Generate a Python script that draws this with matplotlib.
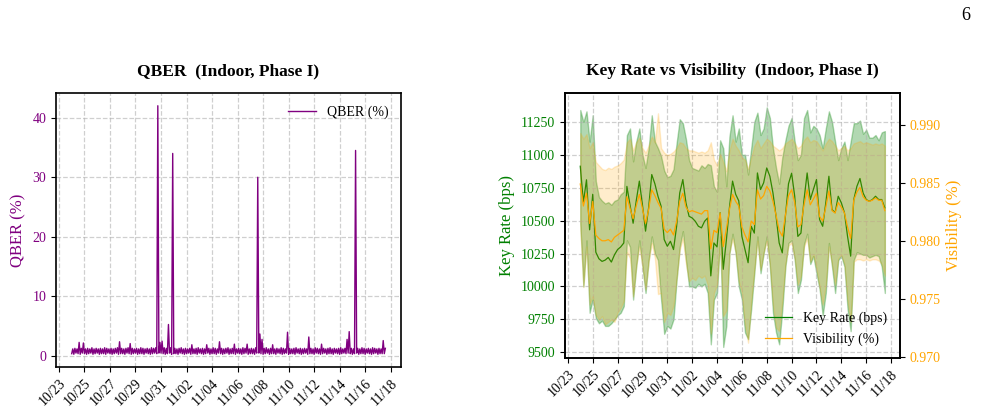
import matplotlib
matplotlib.use('Agg')
import matplotlib.pyplot as plt
import matplotlib.dates as mdates
import pandas as pd

plt.rcParams['font.family'] = ['Liberation Serif', 'DejaVu Serif']

# ---------------- data ----------------
# QBER: per 4-hour window, the low and the high reading (spikes sit in the highs)
qber_start = '2023-10-24 00:00'
qber_step = '4h'
qber_hi = [1.2, 1.3, 1.2, 2.3, 1.3, 2.2, 1.2, 1.3, 1.2, 1.4,
           1.2, 1.3, 1.2, 1.3, 1.2, 1.4, 1.3, 1.2, 1.3, 1.2,
           1.3, 1.4, 2.4, 1.3, 1.2, 1.3, 1.4, 2.1, 1.3, 1.2,
           1.3, 1.2, 1.4, 1.3, 1.2, 1.3, 1.2, 1.4, 1.3, 1.4,
           42.0, 2.3, 2.5, 1.4, 1.3, 5.3, 1.4, 34.0, 1.3, 1.2,
           1.3, 1.4, 1.2, 1.3, 1.2, 1.3, 1.9, 1.2, 1.3, 1.4,
           1.2, 1.3, 1.2, 1.9, 1.3, 1.2, 1.4, 1.3, 1.2, 2.4,
           1.3, 1.2, 1.3, 1.4, 1.2, 1.3, 2.0, 1.2, 1.3, 1.2,
           1.4, 1.3, 2.0, 1.2, 1.3, 1.2, 1.4, 30.0, 3.7, 2.8,
           1.3, 1.4, 1.2, 1.3, 1.9, 1.2, 1.3, 1.2, 1.4, 1.3,
           1.2, 4.0, 1.3, 1.2, 1.3, 1.4, 1.2, 1.3, 1.2, 1.3,
           1.2, 3.2, 1.3, 1.2, 1.4, 1.3, 1.2, 2.0, 1.3, 1.2,
           1.3, 1.4, 1.2, 1.3, 1.2, 1.3, 1.4, 1.2, 1.3, 2.8,
           4.1, 1.3, 1.2, 34.5, 1.3, 1.2, 1.4, 1.3, 1.2, 1.3,
           1.2, 1.4, 1.3, 1.2, 1.3, 1.2, 2.6, 1.3]
qber_lo = [0.4, 0.3, 0.5, 0.4, 0.3, 0.5, 0.4, 0.3, 0.4, 0.5,
           0.3, 0.4, 0.5, 0.3, 0.4, 0.4, 0.3, 0.5, 0.4, 0.3,
           0.4, 0.5, 0.3, 0.4, 0.4, 0.3, 0.5, 0.4, 0.3, 0.4,
           0.5, 0.3, 0.4, 0.4, 0.3, 0.5, 0.4, 0.3, 0.4, 0.5,
           0.4, 0.5, 0.5, 0.4, 0.3, 0.4, 0.5, 0.3, 0.4, 0.4,
           0.3, 0.5, 0.4, 0.3, 0.4, 0.5, 0.3, 0.4, 0.4, 0.3,
           0.5, 0.4, 0.3, 0.4, 0.5, 0.3, 0.4, 0.4, 0.3, 0.5,
           0.4, 0.3, 0.4, 0.5, 0.3, 0.4, 0.4, 0.3, 0.5, 0.4,
           0.3, 0.4, 0.5, 0.3, 0.4, 0.4, 0.3, 0.5, 0.5, 0.4,
           0.3, 0.4, 0.5, 0.3, 0.4, 0.4, 0.3, 0.5, 0.4, 0.3,
           0.4, 0.5, 0.3, 0.4, 0.4, 0.3, 0.5, 0.4, 0.3, 0.4,
           0.5, 0.3, 0.4, 0.4, 0.3, 0.5, 0.4, 0.3, 0.4, 0.5,
           0.3, 0.4, 0.4, 0.3, 0.5, 0.4, 0.3, 0.4, 0.5, 0.4,
           0.5, 0.4, 0.3, 0.4, 0.5, 0.3, 0.4, 0.4, 0.3, 0.5,
           0.4, 0.3, 0.4, 0.5, 0.3, 0.4, 0.4, 0.4]

kr_start = '2023-10-24 00:00'
kr_step = '6h'
key_rate = [10913, 10640, 10810, 10430, 10700, 10260, 10210, 10190, 10200, 10220,
            10185, 10240, 10280, 10300, 10330, 10760, 10620, 10480, 10650, 10800,
            10620, 10420, 10600, 10850, 10780, 10685, 10610, 10356, 10305, 10343,
            10280, 10457, 10710, 10812, 10635, 10533, 10520, 10495, 10457, 10445,
            10495, 10520, 10080, 10330, 10300, 10560, 10130, 10350, 10600, 10800,
            10700, 10650, 10380, 10280, 10180, 10457, 10405, 10862, 10736, 10787,
            10900, 10837, 10710, 10533, 10330, 10255, 10533, 10780, 10860, 10685,
            10380, 10405, 10660, 10862, 10660, 10736, 10812, 10508, 10457, 10635,
            10837, 10584, 10560, 10685, 10635, 10560, 10380, 10230, 10660, 10760,
            10820, 10710, 10660, 10647, 10660, 10685, 10660, 10660, 10597]
key_rate_hi = [11340, 11250, 11330, 11100, 11300, 10800, 10680, 10650, 10630, 10640,
               10620, 10650, 10660, 10700, 10720, 11150, 11200, 10950, 11100, 11200,
               11000, 10900, 11050, 11300, 11100, 11050, 10990, 10880, 10830, 10840,
               10890, 11090, 11270, 11240, 11120, 10960, 10900, 10890, 10880, 10920,
               10900, 10930, 10920, 10760, 10720, 11110, 11050, 10760, 11140, 11300,
               11100, 11200, 11000, 11000, 10850, 11050, 11250, 11320, 11150, 11200,
               11360, 11280, 11050, 10900, 10780, 10980, 11110, 11220, 11280, 11100,
               10960, 11000, 11280, 11340, 11170, 11220, 11200, 11150, 11050, 11200,
               11330, 11250, 11100, 10960, 11050, 11100, 10960, 11100, 11240, 11240,
               11260, 11160, 11190, 11130, 11130, 11150, 11110, 11170, 11180]
key_rate_lo = [10480, 10000, 10350, 9800, 9900, 9760, 9720, 9740, 9700, 9700,
               9720, 9750, 9780, 9800, 9850, 10350, 10300, 9900, 10150, 10350,
               10150, 9950, 10200, 10380, 10250, 10200, 9900, 9640, 9700, 9680,
               9750, 10050, 10300, 10420, 10200, 10000, 10000, 9990, 10020, 10000,
               10020, 9950, 9560, 9900, 9950, 10380, 9540, 9700, 10250, 10400,
               10250, 10000, 9900, 9650, 9600, 9830, 10100, 10380, 10100, 10250,
               10380, 10150, 9800, 9650, 9560, 9820, 10150, 10330, 10350, 10200,
               9950, 10050, 10320, 10400, 10170, 10230, 10100, 9980, 9780, 9950,
               10330, 10150, 9950, 10200, 10230, 10150, 9830, 9660, 10200, 10260,
               10250, 10240, 10240, 10220, 10230, 10240, 10230, 10150, 9950]

visibility = [0.9849, 0.9830, 0.9841, 0.9815, 0.9834, 0.9805, 0.9802, 0.9800, 0.9800, 0.9801,
              0.9799, 0.9803, 0.9805, 0.9807, 0.9809, 0.9838, 0.9828, 0.9819, 0.9830, 0.9840,
              0.9828, 0.9815, 0.9827, 0.9844, 0.9839, 0.9833, 0.9828, 0.9810, 0.9807, 0.9810,
              0.9805, 0.9817, 0.9834, 0.9841, 0.9829, 0.9825, 0.9826, 0.9825, 0.9824, 0.9823,
              0.9826, 0.9826, 0.9793, 0.9809, 0.9807, 0.9824, 0.9795, 0.9810, 0.9827, 0.9840,
              0.9834, 0.9830, 0.9812, 0.9805, 0.9799, 0.9817, 0.9814, 0.9844, 0.9836, 0.9839,
              0.9847, 0.9843, 0.9834, 0.9822, 0.9809, 0.9804, 0.9822, 0.9839, 0.9844, 0.9833,
              0.9812, 0.9814, 0.9831, 0.9844, 0.9831, 0.9836, 0.9841, 0.9821, 0.9817, 0.9829,
              0.9843, 0.9826, 0.9824, 0.9833, 0.9829, 0.9824, 0.9812, 0.9802, 0.9835, 0.9842,
              0.9846, 0.9838, 0.9835, 0.9834, 0.9835, 0.9837, 0.9835, 0.9835, 0.9826]
visibility_hi = [0.9893, 0.9888, 0.9892, 0.9880, 0.9885, 0.9868, 0.9865, 0.9862, 0.9861, 0.9863,
                 0.9862, 0.9864, 0.9865, 0.9867, 0.9870, 0.9885, 0.9888, 0.9878, 0.9885, 0.9889,
                 0.9880, 0.9876, 0.9882, 0.9890, 0.9885, 0.9910, 0.9880, 0.9876, 0.9874, 0.9875,
                 0.9877, 0.9880, 0.9885, 0.9884, 0.9880, 0.9878, 0.9878, 0.9877, 0.9876, 0.9877,
                 0.9876, 0.9878, 0.9885, 0.9870, 0.9865, 0.9875, 0.9868, 0.9860, 0.9878, 0.9888,
                 0.9882, 0.9878, 0.9872, 0.9870, 0.9862, 0.9872, 0.9882, 0.9887, 0.9880, 0.9884,
                 0.9888, 0.9886, 0.9882, 0.9880, 0.9878, 0.9880, 0.9884, 0.9886, 0.9888, 0.9884,
                 0.9880, 0.9882, 0.9887, 0.9890, 0.9885, 0.9887, 0.9886, 0.9882, 0.9878, 0.9884,
                 0.9888, 0.9886, 0.9882, 0.9878, 0.9880, 0.9882, 0.9878, 0.9880, 0.9884, 0.9885,
                 0.9886, 0.9884, 0.9885, 0.9884, 0.9883, 0.9884, 0.9883, 0.9884, 0.9882]
visibility_lo = [0.9810, 0.9760, 0.9795, 0.9745, 0.9752, 0.9736, 0.9732, 0.9735, 0.9728, 0.9730,
                 0.9732, 0.9730, 0.9738, 0.9742, 0.9748, 0.9790, 0.9785, 0.9752, 0.9778, 0.9795,
                 0.9778, 0.9758, 0.9782, 0.9798, 0.9785, 0.9754, 0.9755, 0.9730, 0.9738, 0.9736,
                 0.9744, 0.9768, 0.9792, 0.9802, 0.9780, 0.9765, 0.9768, 0.9766, 0.9770, 0.9768,
                 0.9770, 0.9762, 0.9720, 0.9755, 0.9762, 0.9800, 0.9735, 0.9740, 0.9790, 0.9802,
                 0.9790, 0.9765, 0.9755, 0.9728, 0.9712, 0.9748, 0.9775, 0.9800, 0.9775, 0.9790,
                 0.9800, 0.9780, 0.9745, 0.9725, 0.9722, 0.9748, 0.9780, 0.9796, 0.9798, 0.9785,
                 0.9762, 0.9770, 0.9795, 0.9802, 0.9782, 0.9788, 0.9776, 0.9760, 0.9745, 0.9762,
                 0.9795, 0.9780, 0.9762, 0.9785, 0.9788, 0.9780, 0.9748, 0.9730, 0.9782, 0.9784,
                 0.9784, 0.9783, 0.9784, 0.9783, 0.9784, 0.9784, 0.9783, 0.9780, 0.9770]

tick_start = '2023-10-23'
tick_end = '2023-11-18'

# ---------------- plot ----------------
t_q0 = pd.date_range(qber_start, periods=len(qber_hi), freq=qber_step)
t_q = []
qber = []
for t, lo, hi in zip(t_q0, qber_lo, qber_hi):
    t_q += [t, t + pd.Timedelta('2h')]
    qber += [lo, hi]

t_k = pd.date_range(kr_start, periods=len(key_rate), freq=kr_step)
xticks = pd.date_range(tick_start, tick_end, freq='2D')

fig = plt.figure(figsize=(9.81, 4.17), dpi=100)

def style_dates(ax):
    ax.set_xticks(xticks)
    ax.xaxis.set_major_formatter(mdates.DateFormatter('%m/%d'))
    for lab in ax.get_xticklabels():
        lab.set_rotation(45)
        lab.set_ha('right')
        lab.set_rotation_mode('anchor')
    ax.tick_params(axis='both', labelsize=10)
    for s in ax.spines.values():
        s.set_linewidth(1.2)
    ax.grid(True, linestyle='--', color='#b0b0b0', alpha=0.6, linewidth=0.9)

# Left: QBER
ax1 = fig.add_axes([0.0571, 0.1206, 0.3517, 0.6556])
ax1.plot(t_q, qber, color='purple', linewidth=1.0, label='QBER (%)')
style_dates(ax1)
ax1.set_yticks([0, 10, 20, 30, 40])
ax1.tick_params(axis='y', labelcolor='purple')
ax1.set_ylabel('QBER (%)', color='purple', fontsize=12)
ax1.set_title('QBER  (Indoor, Phase I)', fontsize=12.5, fontweight='bold', pad=13)
ax1.legend(loc='upper right', frameon=False, fontsize=10)

# Right: Key rate vs visibility
ax2 = fig.add_axes([0.5760, 0.1408, 0.3415, 0.6370])
ax2.fill_between(t_k, key_rate_lo, key_rate_hi, color='green', alpha=0.3)
l1, = ax2.plot(t_k, key_rate, color='green', linewidth=0.9, label='Key Rate (bps)')
style_dates(ax2)
ax2.set_ylim(9454, 11472)
ax2.set_yticks([9500, 9750, 10000, 10250, 10500, 10750, 11000, 11250])
ax2.tick_params(axis='y', labelcolor='green')
ax2.set_ylabel('Key Rate (bps)', color='green', fontsize=12)
ax2.set_title('Key Rate vs Visibility  (Indoor, Phase I)', fontsize=12.5, fontweight='bold', pad=13)

ax3 = ax2.twinx()
ax3.fill_between(t_k, visibility_lo, visibility_hi, color='orange', alpha=0.2)
l2, = ax3.plot(t_k, visibility, color='orange', linewidth=0.9, label='Visibility (%)')
ax3.set_ylim(0.96986, 0.99278)
ax3.set_yticks([0.970, 0.975, 0.980, 0.985, 0.990])
ax3.yaxis.set_major_formatter('{x:.3f}')
ax3.tick_params(axis='y', labelcolor='orange', labelsize=10)
ax3.set_ylabel('Visibility (%)', color='orange', fontsize=12)
for s in ax3.spines.values():
    s.set_linewidth(1.2)
ax3.legend([l1, l2], ['Key Rate (bps)', 'Visibility (%)'], loc='lower right', frameon=False, fontsize=10)

fig.text(0.9895, 0.962, '6', ha='right', va='center', fontsize=13)

fig.savefig('out.png', dpi=100)
